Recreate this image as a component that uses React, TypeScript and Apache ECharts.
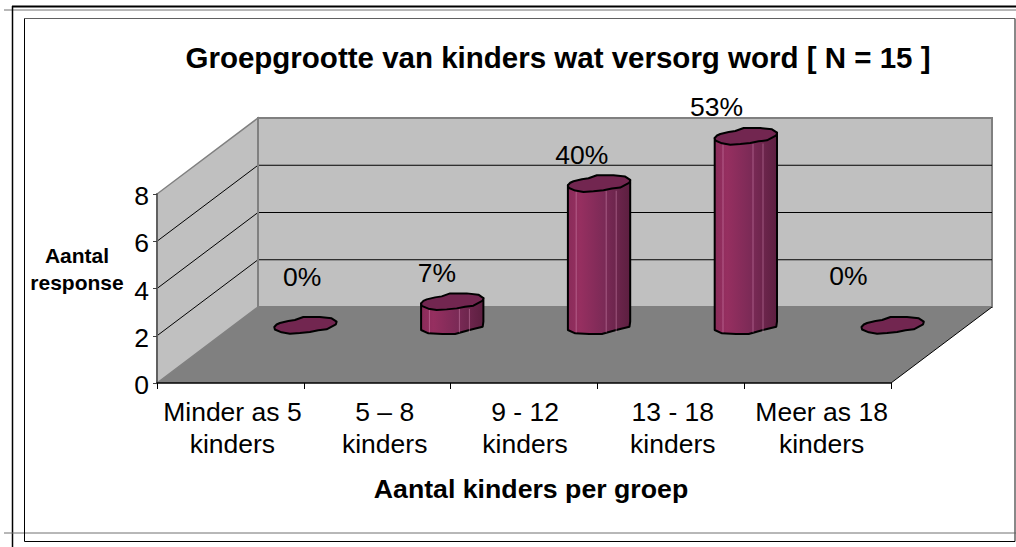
import React, { useEffect, useRef } from "react";
import * as echarts from "echarts";

const categories = ["Minder as 5\nkinders", "5 – 8\nkinders", "9 - 12\nkinders", "13 - 18\nkinders", "Meer as 18\nkinders"];
const categoryNudge = [2, 7.5, 1, 2, 4];
const counts = [0, 1, 6, 8, 0];
const percentLabels = ["0%", "7%", "40%", "53%", "0%"];
const labelNudgeX = [-3.5, -15.5, -17.5, -29.5, -44.5];
const labelNudgeY = [-48, -28, -28, -29, -49];
const yTicks = [2, 4, 6];

const FONT = "'Liberation Sans', Arial, sans-serif";
const DEPTH_X = 101;
const DEPTH_Y = -76;
const BAR_DX = 75.2;
const BAR_DY = -57.5;

// faceted, slightly tilted ellipse of the 3-D cylinder, relative to its centre
const TOP_EDGE = [[-31.3, 1.5], [-29, -1], [-25.7, -2.5], [-17.3, -4.5], [-10.7, -5.5], [-2.3, -8.5], [14.3, -8.5], [26, -7.2], [31, -3.8]];
const LOW_EDGE = [[30.3, -1.2], [21, 3.8], [12.7, 4.8], [4.3, 6.5], [-5.7, 7.5], [-15.7, 8.2], [-24, 6.8], [-30.7, 4]];
const BASE_EDGE = [[31, -3.8], [30.3, 1.2], [21, 3.5], [14.3, 5.2], [2.7, 8.5], [-10, 8.5], [-24, 7.8], [-31.3, 4.5]];
const STREAKS = [-23, 7, 17];

function renderFrame(params: any, api: any) {
  const x0 = params.coordSys.x;
  const y0 = params.coordSys.y + params.coordSys.height;
  const x1 = params.coordSys.x + params.coordSys.width;
  const yTop = params.coordSys.y;
  const gray = "#808080";
  const children: any[] = [
    { type: "polygon", shape: { points: [[x0, y0], [x0 + DEPTH_X, y0 + DEPTH_Y], [x0 + DEPTH_X, yTop + DEPTH_Y], [x0, yTop]] }, style: { fill: "#c0c0c0", stroke: gray, lineWidth: 1.5 } },
    { type: "polygon", shape: { points: [[x0 + DEPTH_X, y0 + DEPTH_Y], [x1 + DEPTH_X, y0 + DEPTH_Y], [x1 + DEPTH_X, yTop + DEPTH_Y], [x0 + DEPTH_X, yTop + DEPTH_Y]] }, style: { fill: "#c0c0c0", stroke: gray, lineWidth: 2 } },
    { type: "polygon", shape: { points: [[x0, y0], [x1, y0], [x1 + DEPTH_X, y0 + DEPTH_Y], [x0 + DEPTH_X, y0 + DEPTH_Y]] }, style: { fill: "#808080" } },
    { type: "line", shape: { x1, y1: y0, x2: x1 + DEPTH_X, y2: y0 + DEPTH_Y }, style: { stroke: "#000", lineWidth: 1 } },
  ];
  yTicks.forEach((t) => {
    const y = api.coord([0, t])[1];
    children.push({ type: "line", shape: { x1: x0, y1: y, x2: x0 + DEPTH_X, y2: y + DEPTH_Y }, style: { stroke: "#000", lineWidth: 1 } });
    children.push({ type: "line", shape: { x1: x0 + DEPTH_X, y1: y + DEPTH_Y, x2: x1 + DEPTH_X, y2: y + DEPTH_Y }, style: { stroke: "#000", lineWidth: 1 } });
  });
  children.push({ type: "line", shape: { x1: x0 + DEPTH_X, y1: y0 + DEPTH_Y, x2: x0 + DEPTH_X, y2: yTop + DEPTH_Y }, style: { stroke: gray, lineWidth: 2 } });
  return { type: "group", children };
}

function renderBar(params: any, api: any) {
  const i = api.value(0);
  const v = api.value(1);
  const top = api.coord([i, v]);
  const base = api.coord([i, 0]);
  const cx = base[0] + BAR_DX;
  const baseY = base[1] + BAR_DY;
  const topY = top[1] + BAR_DY;
  const at = (pts: number[][], y: number) => pts.map((p) => [cx + p[0], y + p[1]]);
  const children: any[] = [];
  if (v > 0) {
    const body = [...at([TOP_EDGE[0]], topY), ...at([TOP_EDGE[TOP_EDGE.length - 1]], topY), ...at(BASE_EDGE, baseY)];
    children.push({
      type: "polygon",
      shape: { points: body },
      style: {
        fill: new echarts.graphic.LinearGradient(0, 0, 1, 0, [
          { offset: 0, color: "#8a2c5a" },
          { offset: 0.2, color: "#962f60" },
          { offset: 0.6, color: "#7a2a56" },
          { offset: 1, color: "#5c1f40" },
        ]),
        stroke: "#000",
        lineWidth: 2,
        lineJoin: "round",
      },
    });
    STREAKS.forEach((d) => {
      children.push({
        type: "line",
        shape: { x1: cx + d, y1: topY + 7, x2: cx + d, y2: baseY + 7 },
        style: { stroke: "rgba(225,150,190,0.45)", lineWidth: 1 },
      });
    });
  }
  children.push({
    type: "polygon",
    shape: { points: [...at(TOP_EDGE, topY), ...at(LOW_EDGE, topY)] },
    style: { fill: "#722650", stroke: "#000", lineWidth: 2, lineJoin: "round" },
  });
  children.push({
    type: "text",
    style: {
      x: cx + labelNudgeX[i],
      y: topY + labelNudgeY[i] - 0.5,
      text: percentLabels[i],
      fontFamily: FONT,
      fontSize: 26.5,
      fill: "#000",
      textAlign: "center",
      textVerticalAlign: "middle",
    },
  });
  return { type: "group", children };
}

const pageLine = (x1: number, y1: number, x2: number, y2: number, stroke: string, lineWidth: number) => ({
  type: "line",
  shape: { x1, y1, x2, y2 },
  style: { stroke, lineWidth },
  silent: true,
});

export default function App() {
  const ref = useRef<HTMLDivElement>(null);
  useEffect(() => {
    const chart = echarts.init(ref.current!, undefined, { renderer: "svg" });
    chart.setOption({
      animation: false,
      backgroundColor: "#fff",
      title: [
        {
          text: "Groepgrootte van kinders wat versorg word [ N = 15 ]",
          left: 553,
          top: 37,
          textAlign: "center",
          textStyle: { fontFamily: FONT, fontSize: 29.5, fontWeight: "bold", color: "#000" },
        },
        {
          text: "Aantal\nresponse",
          left: 72,
          top: 237,
          textAlign: "center",
          textStyle: { fontFamily: FONT, fontSize: 21, fontWeight: "bold", color: "#000", lineHeight: 27, align: "center" },
        },
      ],
      grid: { left: 157, top: 194, width: 734, height: 189, outerBoundsMode: "none" },
      xAxis: {
        type: "category",
        data: categories.map((value, i) => ({ value, textStyle: { padding: [0, 0, 0, categoryNudge[i] * 2] } })),
        z: 3,
        axisLine: { lineStyle: { color: "#000", width: 1.5 } },
        axisTick: { show: true, length: 6, lineStyle: { color: "#000" } },
        axisLabel: { interval: 0, fontFamily: FONT, fontSize: 26.5, color: "#000", lineHeight: 32, margin: 13 },
        name: "Aantal kinders per groep",
        nameLocation: "middle",
        nameGap: 92,
        nameTextStyle: { fontFamily: FONT, fontSize: 26.7, fontWeight: "bold", color: "#000", padding: [0, 0, 0, 14] },
      },
      yAxis: {
        type: "value",
        min: 0,
        max: 8,
        interval: 2,
        z: 3,
        splitLine: { show: false },
        axisLine: { show: true, lineStyle: { color: "#606060", width: 2 } },
        axisTick: { show: true, length: 4, lineStyle: { color: "#404040" } },
        axisLabel: { fontFamily: FONT, fontSize: 26.5, color: "#000", margin: 8, verticalAlign: "top", lineHeight: 4 },
      },
      series: [
        { type: "custom", z: 1, silent: true, renderItem: renderFrame, data: [[0, 0]], encode: { x: 0, y: 1 } },
        { type: "custom", z: 2, silent: true, renderItem: renderBar, data: counts.map((v, i) => [i, v]), encode: { x: 0, y: 1 } },
      ],
      graphic: [
        pageLine(12, 6.5, 1016, 6.5, "#000", 2),
        pageLine(4, 10, 1016, 10, "#707070", 1),
        pageLine(12.5, 6, 12.5, 547, "#000", 1.5),
        pageLine(4, 533, 1016, 533, "#707070", 1),
        pageLine(24.5, 18.5, 1015, 18.5, "#606060", 1),
        pageLine(1015, 18.5, 1015, 541.5, "#606060", 1.5),
        pageLine(24.5, 18.5, 24.5, 541.5, "#000", 1),
        pageLine(24.5, 541.5, 1015, 541.5, "#000", 1),
      ],
    });
    return () => chart.dispose();
  }, []);
  return <div ref={ref} style={{ position: "fixed", left: 0, top: 0, width: 1016, height: 547 }} />;
}
